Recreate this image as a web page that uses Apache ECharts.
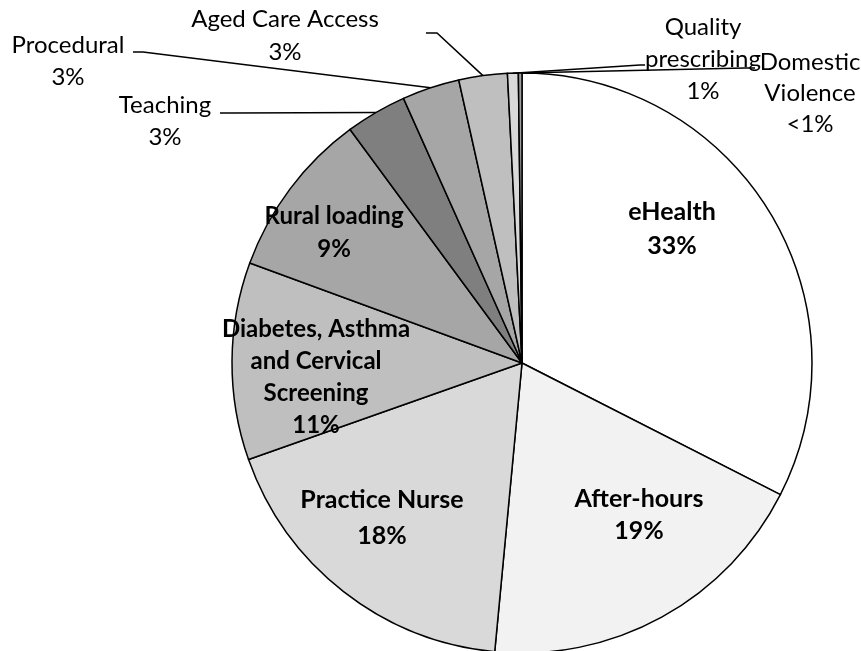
<!DOCTYPE html>
<html lang="en">
<head>
    <meta charset="UTF-8">
    <script src="https://cdn.jsdelivr.net/npm/echarts@6/dist/echarts.min.js"></script>
    <style>
        html, body { margin: 0; padding: 0; background: #fff; }
        #chart { width: 861px; height: 651px; }
    </style>
</head>
<body>
<div id="chart"></div>
<script>
    // data
    var categories = ['eHealth', 'After-hours', 'Practice Nurse', 'Diabetes, Asthma\nand Cervical\nScreening',
        'Rural loading', 'Teaching', 'Procedural', 'Aged Care Access', 'Quality\nprescribing', 'Domestic\nViolence'];
    var values = [32.5, 19.0, 18.1, 11.0, 9.3, 3.4, 3.2, 2.7, 0.6, 0.2];
    var pctLabels = ['33%', '19%', '18%', '11%', '9%', '3%', '3%', '3%', '1%', '<1%'];

    // styles
    var colors = ['#ffffff', '#f2f2f2', '#d9d9d9', '#bfbfbf', '#a6a6a6', '#7f7f7f', '#a6a6a6', '#bfbfbf', '#d9d9d9', '#a0a0a0'];
    var inside = [true, true, true, true, true, false, false, false, false, false];
    var fontSizes = [25, 25, 25, 24, 24, 24, 24, 24, 24, 24];
    var lineHeights = [34, 32, 36, 32, 33, 32, 32, 33, 32, 31];
    // label centres and leader line ends (label side)
    var labelPos = [
        {x: 672, y: 229},
        {x: 639, y: 515},
        {x: 382, y: 518},
        {x: 316, y: 377},
        {x: 334, y: 233},
        {x: 165, y: 121, line: [[232, 113], [220, 113]]},
        {x: 68, y: 61, line: [[143, 52], [133, 52]]},
        {x: 285, y: 36, line: [[437, 33], [426, 33]]},
        {x: 703, y: 59, line: [[640, 65], [645, 65]]},
        {x: 810, y: 93, line: [[745, 68], [755, 68]]}
    ];

    var seriesData = categories.map(function (name, i) {
        return {
            name: name,
            value: values[i],
            itemStyle: {color: colors[i]},
            label: {
                position: inside[i] ? 'inside' : 'outside',
                fontWeight: inside[i] ? 'bold' : 'normal',
                fontSize: fontSizes[i],
                lineHeight: lineHeights[i]
            },
            labelLine: {show: !inside[i]}
        };
    });

    var myChart = echarts.init(document.getElementById('chart'));
    var option = {
        backgroundColor: '#fff',
        animation: false,
        series: [{
            type: 'pie',
            center: [522, 363],
            radius: [0, 290],
            startAngle: 90,
            clockwise: true,
            avoidLabelOverlap: false,
            data: seriesData,
            itemStyle: {borderColor: '#000', borderWidth: 1.5},
            label: {
                show: true,
                color: '#000',
                fontFamily: 'Lato',
                align: 'center',
                formatter: function (p) {
                    return p.name + '\n' + pctLabels[p.dataIndex];
                }
            },
            labelLine: {
                lineStyle: {color: '#000', width: 1.5},
                smooth: false
            },
            labelLayout: function (params) {
                var pos = labelPos[params.dataIndex];
                var out = {x: pos.x, y: pos.y, align: 'center', verticalAlign: 'middle'};
                if (pos.line && params.labelLinePoints) {
                    out.labelLinePoints = [params.labelLinePoints[0], pos.line[0], pos.line[1]];
                }
                return out;
            }
        }]
    };
    myChart.setOption(option);
</script>
</body>
</html>
